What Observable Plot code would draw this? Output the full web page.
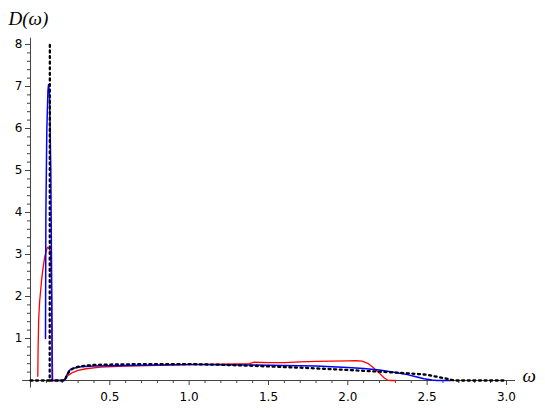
<!DOCTYPE html>
<html><head><meta charset="utf-8">
<script src="https://cdn.jsdelivr.net/npm/d3@7"></script>
<script src="https://cdn.jsdelivr.net/npm/@observablehq/plot@0.6"></script>
<style>body{margin:0;background:#fff}</style>
</head><body><div id="chart"></div>
<script>
// dotted (black) reference curve: [omega, D]; null marks the break after the divergence
const dottedCurve = [[0,0],[0.121,0],[0.122,8.0],[0.1225,null],[0.123,0],[0.215,0],[0.23,0.12],[0.245,0.22],[0.265,0.28],[0.285,0.31],[0.31,0.335],[0.34,0.35],[0.4,0.37],[0.5,0.38],[0.6,0.385],[0.7,0.39],[0.8,0.39],[0.9,0.39],[1.0,0.39],[1.2,0.375],[1.4,0.35],[1.5,0.335],[1.7,0.305],[1.9,0.27],[2.0,0.25],[2.2,0.21],[2.3,0.19],[2.44,0.155],[2.5,0.135],[2.56,0.09],[2.62,0.045],[2.67,0],[3.0,0]];
// blue curve
const blueCurve = [[0.0945,1.0],[0.097,4.0],[0.103,6.0],[0.11,6.9],[0.114,7.05],[0.12,6.8],[0.128,5.0],[0.134,2.0],[0.1365,0],[0.215,0],[0.225,0.1],[0.24,0.22],[0.255,0.27],[0.28,0.3],[0.32,0.325],[0.4,0.345],[0.6,0.36],[0.8,0.37],[1.0,0.38],[1.2,0.375],[1.4,0.37],[1.6,0.36],[1.8,0.345],[1.9,0.33],[2.0,0.31],[2.1,0.285],[2.2,0.25],[2.3,0.19],[2.375,0.14],[2.43,0.09],[2.48,0.04],[2.53,0.01],[2.56,0],[2.65,0]];
// red curve
const redCurve = [[0.046,0.1],[0.048,0.8],[0.052,1.5],[0.058,1.9],[0.063,2.1],[0.07,2.4],[0.08,2.7],[0.09,2.95],[0.1,3.1],[0.107,3.17],[0.115,3.15],[0.126,3.08],[0.131,2.5],[0.136,1.0],[0.14,0],[0.2,0],[0.215,0.02],[0.23,0.1],[0.26,0.18],[0.3,0.24],[0.35,0.28],[0.44,0.32],[0.6,0.345],[0.8,0.36],[1.0,0.38],[1.2,0.39],[1.38,0.4],[1.41,0.435],[1.5,0.425],[1.6,0.425],[1.7,0.445],[1.8,0.455],[1.9,0.46],[2.0,0.465],[2.05,0.47],[2.09,0.46],[2.13,0.4],[2.16,0.31],[2.2,0.17],[2.23,0.06],[2.25,0.01],[2.27,0],[2.3,0]];

const xMajorTicks = [0,0.5,1.0,1.5,2.0,2.5,3.0];
const xMinorTicks = [0.1,0.2,0.3,0.4,0.6,0.7,0.8,0.9,1.1,1.2,1.3,1.4,1.6,1.7,1.8,1.9,2.1,2.2,2.3,2.4,2.6,2.7,2.8,2.9];
const yMajorTicks = [0,1,2,3,4,5,6,7,8];
const yMinorTicks = [0.2,0.4,0.6,0.8,1.2,1.4,1.6,1.8,2.2,2.4,2.6,2.8,3.2,3.4,3.6,3.8,4.2,4.4,4.6,4.8,5.2,5.4,5.6,5.8,6.2,6.4,6.6,6.8,7.2,7.4,7.6,7.8];
const xAxisExtent = [-0.05, 3.057];
const yAxisExtent = [-0.18, 8.15];
const yLabel = "D(ω)";
const xLabel = "ω";

const rows = a => a.map(([w, D]) => ({w, D}));
const axisColor = "#444";
const labelFont = {fontFamily: "Liberation Serif", fontStyle: "italic", fontSize: 19, textAnchor: "start", lineAnchor: "bottom", fill: "black"};

const chart = Plot.plot({
  width: 545, height: 410,
  marginLeft: 30, marginRight: 30, marginTop: 37.7, marginBottom: 30,
  x: {domain: [0, xAxisExtent[1]]},
  y: {domain: [0, yAxisExtent[1]]},
  style: {fontFamily: "DejaVu Sans", fontSize: "12px", color: "black", background: "white"},
  marks: [
    Plot.axisX({ticks: xMinorTicks, tickSize: 3, tickFormat: () => "", stroke: axisColor, label: null}),
    Plot.axisX({ticks: xMajorTicks, tickSize: 5, tickPadding: 7, tickFormat: d => d === 0 ? "" : d.toFixed(1), stroke: axisColor, label: null}),
    Plot.axisY({ticks: yMinorTicks, tickSize: 3, tickFormat: () => "", stroke: axisColor, label: null}),
    Plot.axisY({ticks: yMajorTicks, tickSize: 5, tickPadding: 3, tickFormat: d => d === 0 ? "" : String(d), stroke: axisColor, label: null}),
    Plot.ruleY([0], {x1: xAxisExtent[0], x2: xAxisExtent[1], stroke: axisColor}),
    Plot.ruleX([0], {y1: yAxisExtent[0], y2: yAxisExtent[1], stroke: axisColor}),
    Plot.line(rows(redCurve), {x: "w", y: "D", stroke: "#ff0000", strokeWidth: 1.3}),
    Plot.line(rows(blueCurve), {x: "w", y: "D", stroke: "#0000ff", strokeWidth: 1.5}),
    Plot.line(rows(dottedCurve), {x: "w", y: "D", stroke: "black", strokeWidth: 2.3, strokeDasharray: "2 3.6"}),
    Plot.text([yLabel], {frameAnchor: "top-left", dx: -22, dy: -13.7, ...labelFont}),
    Plot.text([xLabel], {frameAnchor: "bottom-right", dx: 7, dy: 1.5, ...labelFont})
  ]
});
document.getElementById("chart").appendChild(chart);
</script>
</body></html>
